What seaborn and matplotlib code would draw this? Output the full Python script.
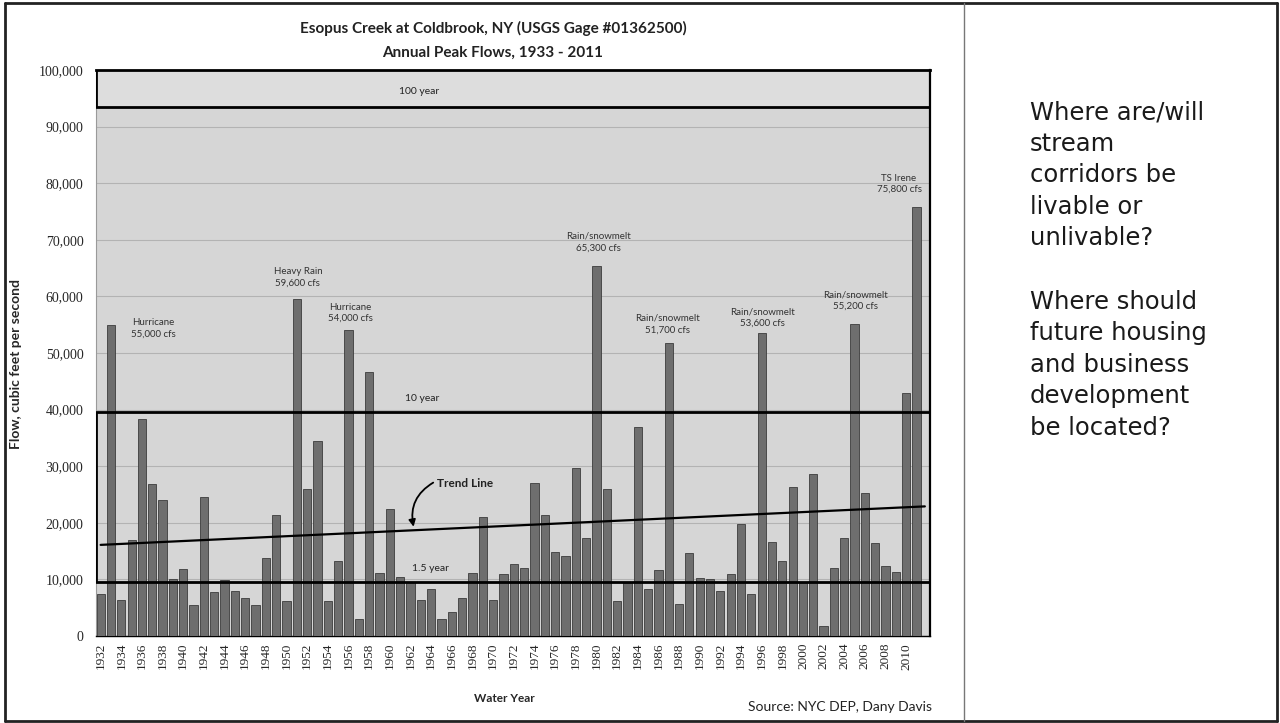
import numpy as np
import pandas as pd
import matplotlib
matplotlib.use("Agg")
import matplotlib.pyplot as plt
import seaborn as sns
from matplotlib.lines import Line2D

# ---------------- data ----------------
years = list(range(1932, 2012))
flows = [
    7500, 55000, 6400, 17000, 38300, 26900, 24100, 10000, 11800, 5400,   # 1932-1941
    24600, 7800, 9900, 8000, 6800, 5400, 13700, 21300, 6200, 59600,      # 1942-1951
    26000, 34500, 6200, 13300, 54000, 3000, 46700, 11100, 22400, 10400,  # 1952-1961
    9500, 6400, 8300, 3000, 4200, 6800, 11200, 21000, 6400, 11000,       # 1962-1971
    12700, 12000, 27100, 21300, 14900, 14200, 29600, 17400, 65300, 25900,  # 1972-1981
    6200, 9300, 37000, 8300, 11700, 51700, 5600, 14700, 10300, 10000,    # 1982-1991
    7900, 11000, 19700, 7500, 53600, 16600, 13300, 26300, 9300, 28600,   # 1992-2001
    1800, 12100, 17300, 55200, 25200, 16400, 12300, 11300, 43000, 75800,  # 2002-2011
]
tick_years = [str(y) for y in range(1932, 2011, 2)]
y_ticks = list(range(0, 100001, 10000))

return_names = ["100 year", "10 year", "1.5 year"]
return_flows = [93500, 39600, 9600]

trend_years = [1932, 2011.8]
trend_flows = [16100, 22900]

event_years = [1933, 1951, 1956, 1980, 1987, 1996, 2005, 2011]
event_names = ["Hurricane", "Heavy Rain", "Hurricane", "Rain/snowmelt",
               "Rain/snowmelt", "Rain/snowmelt", "Rain/snowmelt", "TS Irene"]
event_cfs = [55000, 59600, 54000, 65300, 51700, 53600, 55200, 75800]

title_lines = ["Esopus Creek at Coldbrook, NY (USGS Gage #01362500)",
               "Annual Peak Flows, 1933 - 2011"]
side_lines = ["Where are/will", "stream", "corridors be", "livable or", "unlivable?", "",
              "Where should", "future housing", "and business", "development", "be located?"]

# ---------------- figure ----------------
sns.set_style("white")
plt.rcParams["font.family"] = ["Lato", "DejaVu Sans"]

W, H = 1280, 723
fig = plt.figure(figsize=(W / 100, H / 100), dpi=100)
fig.patch.set_facecolor("white")

def fx(px):
    return px / W

def fy(py):
    return 1 - py / H

ax = fig.add_axes([fx(96), fy(636), fx(930) - fx(96), fy(70) - fy(636)])

df = pd.DataFrame({"year": [str(y) for y in years], "flow": flows})
sns.barplot(data=df, x="year", y="flow", color="#6e6e6e", saturation=1,
            width=0.8, edgecolor="#3c3c3c", linewidth=0.6, ax=ax, zorder=3)

x0 = years[0]
ax.set_xlim(-0.45, 80.3)
ax.set_ylim(0, 100000)
ax.set_facecolor("#d6d6d6")
ax.axhspan(return_flows[0], 100000, color="#dddddd", zorder=0)
ax.set_yticks(y_ticks)
ax.set_yticklabels([f"{v:,}" for v in y_ticks], fontfamily="Liberation Serif", fontsize=10)
ax.yaxis.grid(True, color="#b3b3b3", lw=0.8, zorder=1)
ax.set_axisbelow(True)

ax.set_xticks([int(t) - x0 for t in tick_years])
ax.set_xticklabels(tick_years, rotation=90, fontfamily="Liberation Serif", fontsize=9.5)
ax.tick_params(axis="x", length=3, width=0.8, color="#555555", pad=2)
ax.tick_params(axis="y", length=3, width=0.8, color="#999999", pad=6)

ax.set_xlabel("Water Year", fontsize=8.5, fontweight="bold")
ax.set_ylabel("Flow, cubic feet per second", fontsize=10, fontweight="bold")
ax.xaxis.set_label_coords(0.49, -0.1)
ax.yaxis.set_label_coords(-0.0885, 0.48)

for side in ["top", "right", "bottom"]:
    ax.spines[side].set_color("black")
ax.spines["top"].set_linewidth(2)
ax.spines["right"].set_linewidth(1.6)
ax.spines["bottom"].set_linewidth(1.0)
ax.spines["left"].set_color("#9a9a9a")
ax.spines["left"].set_linewidth(0.8)

# return-period lines and boxes
for v in return_flows:
    ax.axhline(v, color="black", lw=2, zorder=5)
xl = ax.get_xlim()[0]
ax.vlines(xl, return_flows[2], return_flows[1], color="black", lw=2, zorder=5)
ax.vlines(xl, return_flows[0], 100000, color="black", lw=2, zorder=5)

label_x = [30.8, 31.1, 31.9]
label_y = [96200, 42000, 11900]
for name, lx, ly in zip(return_names, label_x, label_y):
    ax.text(lx, ly, name, ha="center", va="center", fontsize=7.5, color="#222222", zorder=6)

# trend line
ax.plot([t - x0 for t in trend_years], trend_flows, color="black", lw=1.6, zorder=6)
ax.text(32.6, 27000, "Trend Line", fontsize=8.5, fontweight="bold", color="#222222",
        ha="left", va="center", zorder=7)
ax.annotate("", xy=(30.3, 19300), xytext=(32.2, 27100),
            arrowprops=dict(arrowstyle="-|>", color="black", lw=1.3,
                            connectionstyle="arc3,rad=0.35", shrinkA=0, shrinkB=0,
                            mutation_scale=10),
            zorder=7)

# event labels
ev_pos = [(5.1, 54400), (19.1, 63400), (24.2, 57100), (48.2, 69600),
          (54.9, 55100), (64.1, 56200), (73.1, 59300), (77.3, 79900)]
for name, cfs, (px, py) in zip(event_names, event_cfs, ev_pos):
    ax.text(px, py, f"{name}\n{cfs:,} cfs", ha="center", va="center", fontsize=7,
            color="#333333", linespacing=1.35, zorder=7)

# titles
fig.text(fx(493), fy(28), title_lines[0], ha="center", va="center",
         fontsize=11, fontweight="bold", color="#222222")
fig.text(fx(493), fy(53), title_lines[1], ha="center", va="center",
         fontsize=11, fontweight="bold", color="#222222")

fig.text(fx(932), fy(707), "Source: NYC DEP, Dany Davis", ha="right", va="center",
         fontsize=10, color="#222222")

# right panel
for i, line in enumerate(side_lines):
    if line:
        fig.text(fx(1030), fy(112 + 31.6 * i), line, ha="left", va="center",
                 fontsize=17.5, family="DejaVu Sans", color="#1a1a1a")

# frame and divider
frame_kw = dict(color="#222222", lw=2, transform=fig.transFigure)
fig.add_artist(Line2D([fx(5), fx(1277)], [fy(3), fy(3)], **frame_kw))
fig.add_artist(Line2D([fx(5), fx(1277)], [fy(721), fy(721)], **frame_kw))
fig.add_artist(Line2D([fx(5), fx(5)], [fy(3), fy(721)], **frame_kw))
fig.add_artist(Line2D([fx(1277), fx(1277)], [fy(3), fy(721)], **frame_kw))
fig.add_artist(Line2D([fx(964), fx(964)], [fy(3), fy(721)], color="#777777", lw=1,
                      transform=fig.transFigure))

fig.savefig("out.png", dpi=100)
